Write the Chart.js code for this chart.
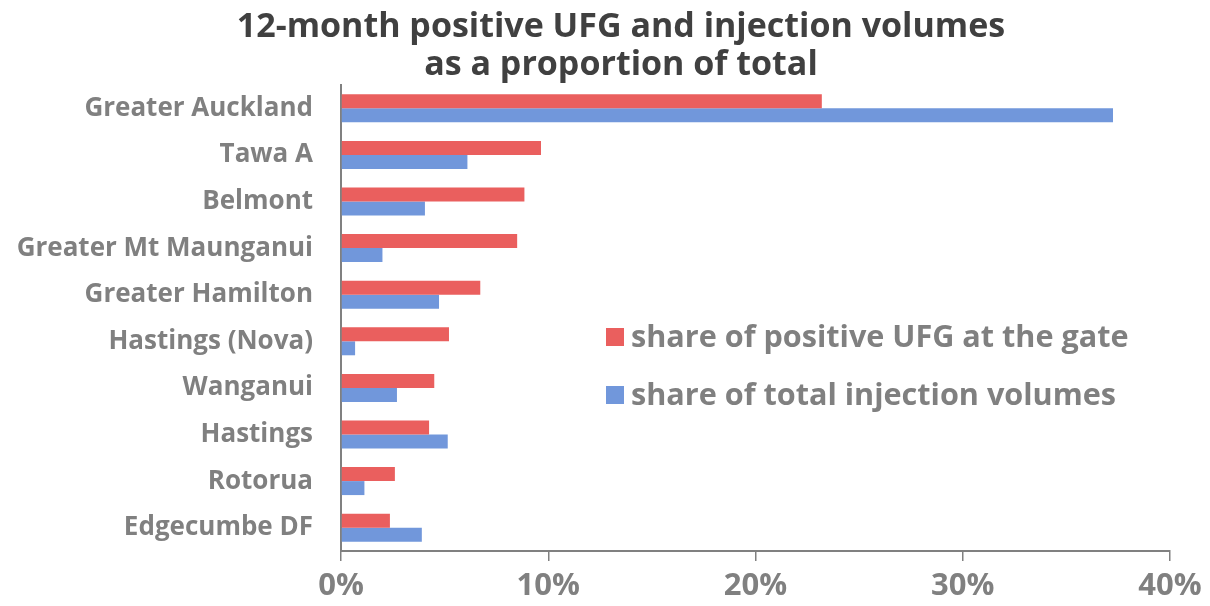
<!DOCTYPE html>
<html>
<head>
<meta charset="utf-8">
<script src="https://cdn.jsdelivr.net/npm/chart.js@4"></script>
<style>
  html, body { margin: 0; padding: 0; background: #ffffff; }
  #wrap { width: 1210px; height: 606px; position: relative; }
</style>
</head>
<body>
<div id="wrap"><canvas id="c" width="1210" height="606"></canvas></div>
<script>
const categories = ["Greater Auckland", "Tawa A", "Belmont", "Greater Mt Maunganui", "Greater Hamilton", "Hastings (Nova)", "Wanganui", "Hastings", "Rotorua", "Edgecumbe DF"];
const ufgShare = [23.2, 9.65, 8.85, 8.5, 6.72, 5.21, 4.5, 4.25, 2.6, 2.36];
const injectionShare = [37.25, 6.1, 4.05, 2.0, 4.73, 0.68, 2.7, 5.15, 1.13, 3.9];
const seriesNames = ["share of positive UFG at the gate", "share of total injection volumes"];
const xTicks = [0, 10, 20, 30, 40];
const titleLines = ["12-month positive UFG and injection volumes", "as a proportion of total"];

const RED = "#EA5F5E";
const BLUE = "#7197DB";
const GREY = "#808080";
const FONT = "'Open Sans', 'Noto Sans', sans-serif";

const titlePlugin = {
  id: "centeredTitle",
  afterDraw(chart) {
    const ctx = chart.ctx;
    ctx.save();
    ctx.font = "bold 34px " + FONT;
    ctx.fillStyle = "#404040";
    ctx.textAlign = "center";
    ctx.textBaseline = "alphabetic";
    ctx.fillText(titleLines[0], 621, 37);
    ctx.fillText(titleLines[1], 621, 75);
    ctx.restore();
  }
};

const legendPlugin = {
  id: "insideLegend",
  afterDraw(chart) {
    const ctx = chart.ctx;
    const a = chart.chartArea;
    const x0 = a.left + 265;
    const rows = [a.top + 252, a.top + 310];
    ctx.save();
    ctx.font = "bold 30.6px " + FONT;
    ctx.textBaseline = "middle";
    ctx.textAlign = "left";
    chart.data.datasets.forEach((ds, i) => {
      const y = rows[i];
      ctx.fillStyle = ds.backgroundColor;
      ctx.fillRect(x0, y - 9, 18, 18);
      ctx.fillStyle = GREY;
      ctx.fillText(ds.label, x0 + 25, y + 1);
    });
    ctx.restore();
  }
};

new Chart(document.getElementById("c"), {
  type: "bar",
  data: {
    labels: categories,
    datasets: [
      { label: seriesNames[0], data: ufgShare, backgroundColor: RED },
      { label: seriesNames[1], data: injectionShare, backgroundColor: BLUE }
    ]
  },
  options: {
    indexAxis: "y",
    responsive: false,
    animation: false,
    devicePixelRatio: 1,
    layout: { padding: { left: 0, right: 40, top: 85, bottom: 3 } },
    datasets: { bar: { categoryPercentage: 0.6, barPercentage: 1.0 } },
    plugins: {
      legend: { display: false },
      tooltip: { enabled: false },
      title: { display: false }
    },
    scales: {
      x: {
        min: 0,
        max: 40,
        afterBuildTicks(scale) { scale.ticks = xTicks.map(v => ({ value: v })); },
        afterFit(scale) { scale.height = 52; },
        grid: { display: true, drawOnChartArea: false, drawTicks: true, tickLength: 10, color: GREY, lineWidth: 1.5 },
        border: { display: true, color: GREY, width: 2 },
        ticks: {
          color: GREY,
          padding: 7,
          font: { family: FONT, size: 31, weight: "bold", lineHeight: 1.2 },
          callback: v => v + "%"
        }
      },
      y: {
        afterFit(scale) { scale.width = 341; },
        grid: { display: false, drawTicks: false },
        border: { display: true, color: GREY, width: 2 },
        ticks: {
          color: GREY,
          padding: 28,
          autoSkip: false,
          font: { family: FONT, size: 26, weight: "bold" }
        }
      }
    }
  },
  plugins: [titlePlugin, legendPlugin]
});
</script>
</body>
</html>
